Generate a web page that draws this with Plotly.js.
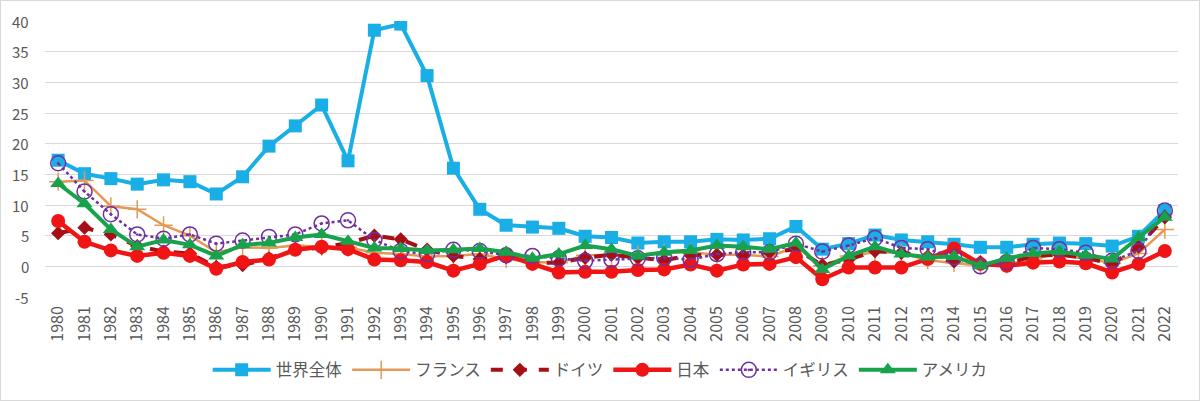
<!DOCTYPE html>
<html>
<head>
<meta charset="utf-8">
<script src="https://cdn.plot.ly/plotly-3.0.1.min.js"></script>
<style>
  html, body { margin: 0; padding: 0; background: #fff; }
  #chart { width: 1200px; height: 401px; box-sizing: border-box; border: 1px solid #d9d9d9; }
</style>
</head>
<body>
<div id="chart"></div>
<script>
const years = ["1980","1981","1982","1983","1984","1985","1986","1987","1988","1989",
  "1990","1991","1992","1993","1994","1995","1996","1997","1998","1999",
  "2000","2001","2002","2003","2004","2005","2006","2007","2008","2009",
  "2010","2011","2012","2013","2014","2015","2016","2017","2018","2019",
  "2020","2021","2022"];

const yTicks = [-5, 0, 5, 10, 15, 20, 25, 30, 35, 40];
const yTickText = ["-5", "0", "5", "10", "15", "20", "25", "30", "35", "40"];

// 世界全体
const world = [17.3, 15.1, 14.3, 13.4, 14.1, 13.8, 11.8, 14.6, 19.6, 22.9,
  26.3, 17.2, 38.5, 39.5, 31.1, 16.0, 9.3, 6.7, 6.4, 6.2,
  4.9, 4.7, 3.8, 4.0, 4.0, 4.4, 4.3, 4.5, 6.5, 2.8,
  3.7, 5.1, 4.3, 4.0, 3.6, 3.1, 3.1, 3.6, 3.8, 3.7,
  3.3, 4.9, 9.1];
// フランス
const france = [13.8, 14.0, 9.8, 9.3, 6.7, 5.0, 2.3, 3.1, 3.0, 3.4,
  3.2, 3.1, 2.2, 2.0, 1.6, 1.7, 2.0, 1.2, 0.7, 0.6,
  1.8, 1.8, 1.9, 2.2, 2.3, 1.9, 1.9, 1.6, 3.2, 0.1,
  1.7, 2.3, 2.2, 1.0, 0.6, 0.1, 0.3, 1.2, 2.1, 1.3,
  0.5, 2.1, 6.0];
// ドイツ
const germany = [5.4, 6.3, 5.2, 3.3, 2.4, 2.1, -0.1, 0.2, 1.3, 2.8,
  3.0, 3.8, 5.0, 4.4, 2.7, 1.7, 1.2, 1.5, 0.6, 0.6,
  1.4, 1.9, 1.4, 1.0, 1.8, 1.9, 1.8, 2.3, 2.8, 0.2,
  1.1, 2.5, 2.2, 1.6, 0.8, 0.7, 0.4, 1.7, 1.9, 1.4,
  0.4, 3.2, 8.0];
// 日本
const japan = [7.4, 4.0, 2.6, 1.7, 2.2, 1.7, -0.4, 0.7, 1.1, 2.7,
  3.2, 2.8, 1.1, 1.0, 0.7, -0.7, 0.4, 1.8, 0.4, -1.0,
  -0.9, -0.9, -0.6, -0.5, 0.3, -0.7, 0.3, 0.4, 1.5, -2.1,
  -0.2, -0.2, -0.2, 1.2, 2.9, 0.4, 0.1, 0.6, 0.8, 0.5,
  -1.0, 0.4, 2.5];
// イギリス
const uk = [16.8, 12.2, 8.5, 5.2, 4.5, 5.2, 3.7, 4.2, 4.8, 5.2,
  7.0, 7.5, 4.3, 2.5, 2.0, 2.7, 2.5, 1.8, 1.7, 1.3,
  0.9, 1.1, 1.3, 1.4, 1.1, 2.0, 2.3, 2.3, 3.7, 2.4,
  3.4, 4.6, 3.0, 2.8, 1.5, 0.0, 0.7, 3.0, 2.8, 2.2,
  0.9, 2.5, 9.1];
// アメリカ
const usa = [13.5, 10.2, 6.0, 3.2, 4.3, 3.5, 1.7, 3.5, 3.8, 4.7,
  5.2, 4.1, 3.0, 2.9, 2.6, 2.7, 2.9, 2.3, 1.3, 2.0,
  3.4, 2.8, 1.7, 2.3, 2.6, 3.4, 3.2, 2.8, 3.8, -0.5,
  1.7, 3.2, 2.0, 1.5, 1.6, 0.1, 1.3, 2.1, 2.4, 1.8,
  1.2, 4.7, 8.0];

const font = "'Noto Sans CJK JP', 'Noto Sans', sans-serif";

const traces = [
  {
    x: years, y: world, name: "世界全体", mode: "lines+markers",
    line: { color: "#19aee6", width: 4 },
    marker: { symbol: "square", size: 13, color: "#19aee6" },
  },
  {
    x: years, y: france, name: "フランス", mode: "lines+markers",
    line: { color: "#e29a56", width: 2.5 },
    marker: { symbol: "cross-thin", size: 13, line: { color: "#e29a56", width: 1.5 } },
  },
  {
    x: years, y: germany, name: "ドイツ", mode: "lines+markers",
    line: { color: "#a50f15", width: 4, dash: "dash" },
    marker: { symbol: "diamond", size: 11, color: "#a50f15" },
  },
  {
    x: years, y: japan, name: "日本", mode: "lines+markers",
    line: { color: "#f01414", width: 4.5 },
    marker: { symbol: "circle", size: 14, color: "#f01414" },
  },
  {
    x: years, y: uk, name: "イギリス", mode: "lines+markers",
    line: { color: "#7030a0", width: 2.5, dash: "dot" },
    marker: { symbol: "circle-open-dot", size: 15, color: "#7030a0", line: { color: "#7030a0", width: 1.5 } },
  },
  {
    x: years, y: usa, name: "アメリカ", mode: "lines+markers",
    line: { color: "#18a24c", width: 4 },
    marker: { symbol: "triangle-up", size: 14, color: "#18a24c" },
  },
];

// y tick labels placed 15px left of the plot, like the original
const yLabels = yTicks.map((v, i) => ({
  xref: "paper", yref: "y",
  x: 0, y: v,
  xanchor: "right", yanchor: "middle",
  xshift: -14,
  text: yTickText[i],
  showarrow: false,
  font: { size: 15, color: "#595959" },
}));

const layout = {
  width: 1198,
  height: 399,
  margin: { l: 44, r: 21, t: 20, b: 98 },
  paper_bgcolor: "#ffffff",
  plot_bgcolor: "#ffffff",
  font: { family: font, color: "#595959", size: 14 },
  showlegend: true,
  legend: {
    orientation: "h",
    x: 0.49, xanchor: "center",
    y: -0.265, yanchor: "middle",
    font: { size: 16.5, color: "#595959" },
    itemwidth: 58,
  },
  xaxis: {
    type: "category",
    range: [-0.5, years.length - 0.5],
    showgrid: false,
    zeroline: false,
    showline: false,
    ticks: "",
    tickangle: -90,
    ticklabelstandoff: 5,
    tickfont: { size: 16, color: "#595959" },
    automargin: false,
  },
  yaxis: {
    range: [-5, 40],
    tickmode: "array",
    tickvals: yTicks,
    showticklabels: false,
    showgrid: true,
    gridcolor: "#d9d9d9",
    gridwidth: 1,
    zeroline: false,
    showline: false,
    ticks: "",
    automargin: false,
  },
  annotations: yLabels,
  shapes: [
    {
      type: "line", xref: "x", yref: "y",
      x0: years[0], x1: years[years.length - 1], y0: 0, y1: 0,
      line: { color: "#000000", width: 1 },
      layer: "below",
    },
  ],
};

Plotly.newPlot("chart", traces, layout, { displayModeBar: false, staticPlot: true });
</script>
</body>
</html>
